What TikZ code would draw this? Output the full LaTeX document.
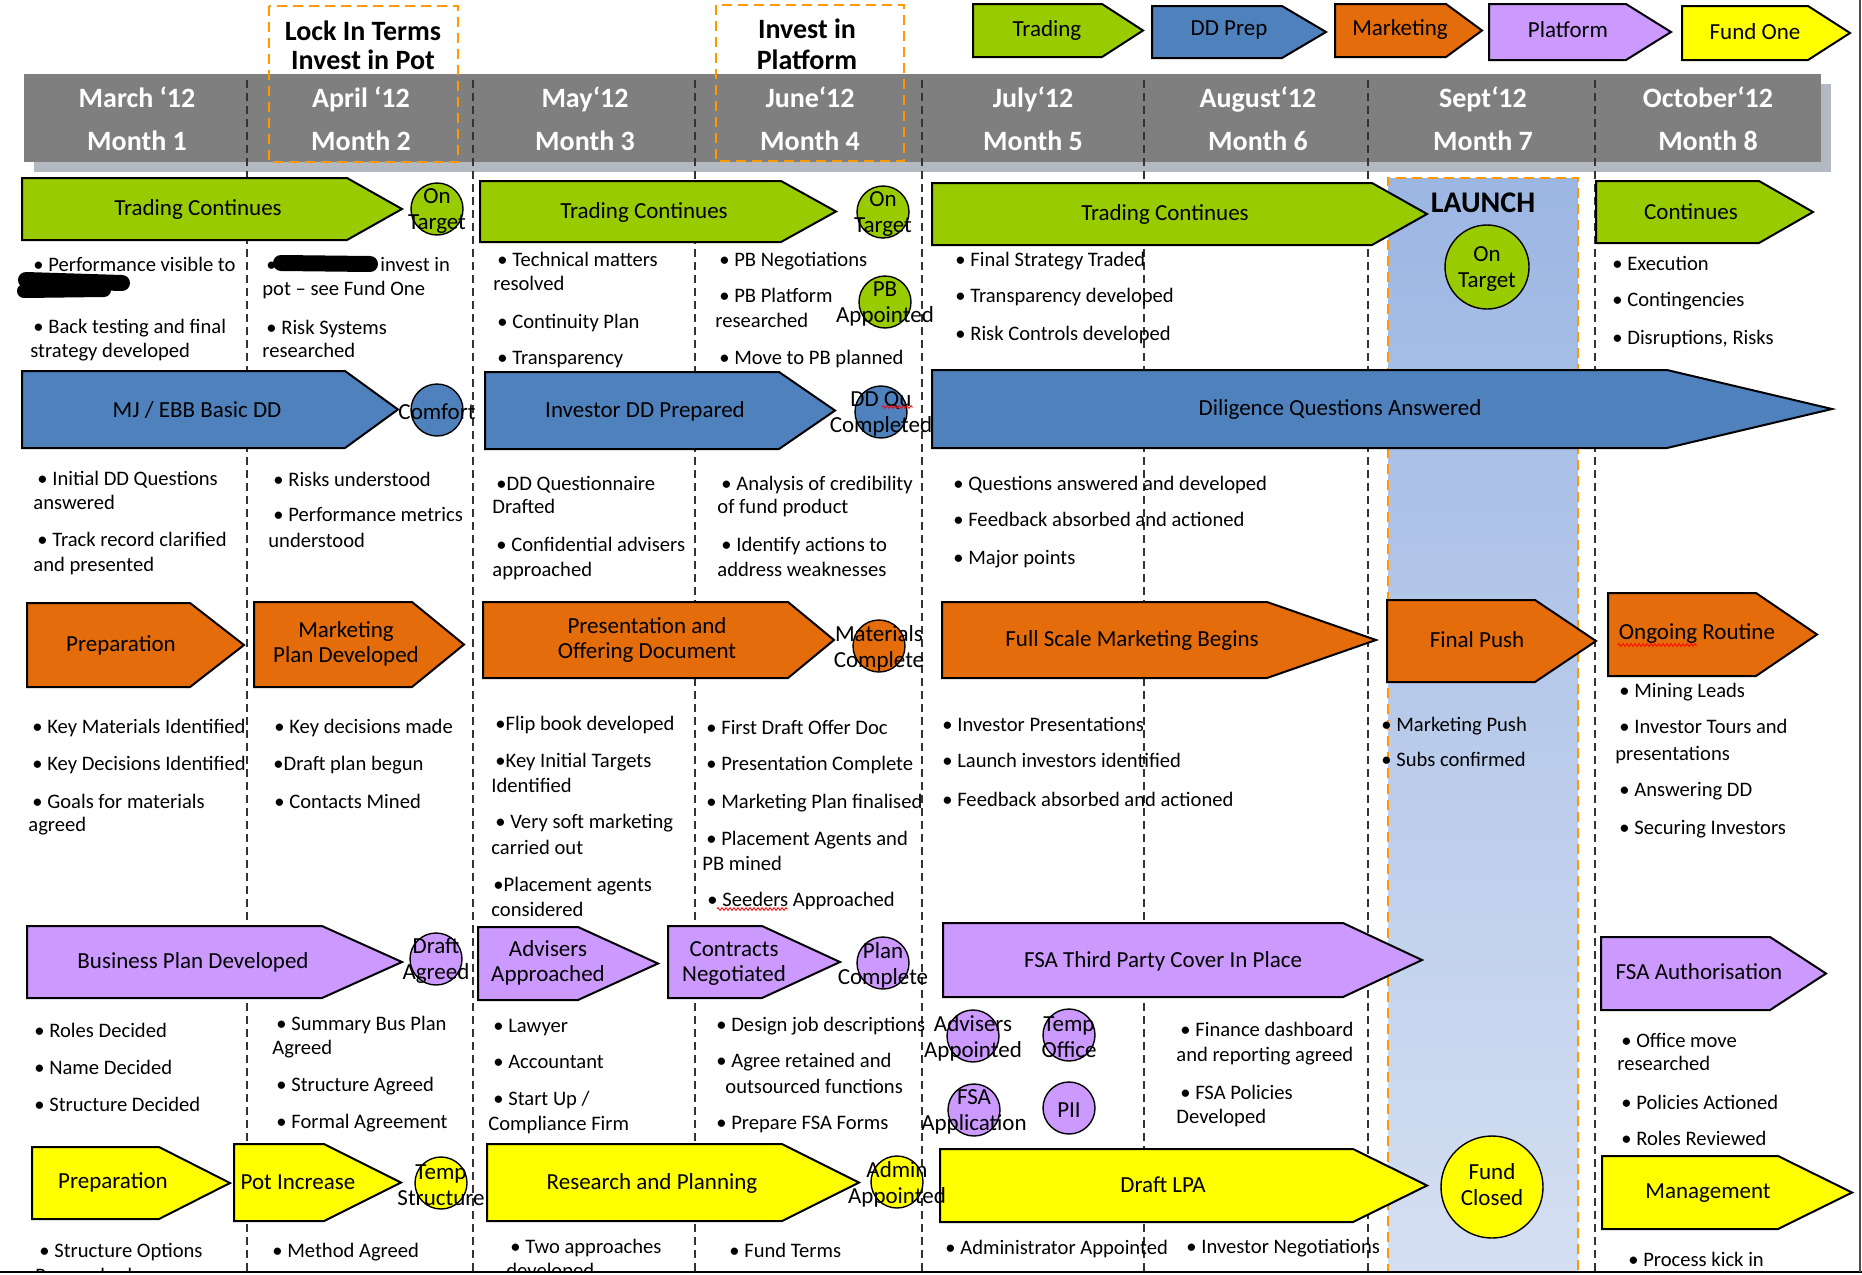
\documentclass[tikz,border=0pt]{standalone}
\usepackage{fontspec}
\setmainfont{Carlito}
\usetikzlibrary{decorations.pathmorphing}
\definecolor{cgreen}{HTML}{99CC00}
\definecolor{cblue}{HTML}{4F81BD}
\definecolor{corange}{HTML}{E46C0A}
\definecolor{cpurple}{HTML}{CC99FF}
\definecolor{cyellow}{HTML}{FFFF00}
\definecolor{hdr}{HTML}{7F7F7F}
\definecolor{hshadow}{HTML}{B3B9C1}
\definecolor{odash}{HTML}{FF9900}
\definecolor{ltop}{HTML}{9CB6E3}
\definecolor{lbot}{HTML}{D5DFF2}
\definecolor{sepc}{HTML}{333333}
\tikzset{
  arrowbox/.style={draw=black, line width=1pt, line join=miter},
  lbl/.style={inner sep=0pt, align=center, font=\fontsize{11.5}{12.5}\selectfont, yshift=-1pt},
  bul/.style={inner sep=0pt, anchor=mid west, yshift=-1.7pt, font=\fontsize{10.3}{12}\selectfont},
  dotc/.style={circle, draw=black, line width=0.7pt, inner sep=0pt},
  ctext/.style={inner sep=0pt, align=center, font=\fontsize{11.5}{13}\selectfont, yshift=-1pt},
  mon/.style={inner sep=0pt, anchor=base, text=white, font=\fontsize{14}{16}\selectfont\bfseries},
  hd/.style={inner sep=0pt, anchor=base, text=black, font=\fontsize{14}{16}\selectfont\bfseries},
  mline/.style={draw=sepc, line width=0.8pt, dash pattern=on 4pt off 2.5pt},
  obox/.style={draw=odash, line width=1.2pt, dash pattern=on 5pt off 3pt},
  squig/.style={draw=red, line width=0.4pt, decorate, decoration={zigzag, segment length=2pt, amplitude=0.7pt}},
  blob/.style={draw=black, line cap=round}
}
\newcommand\pentarrow[6]{\path[arrowbox, fill=#1] (#2,#5) -- (#3,#5) -- (#4,{(#5+#6)/2}) -- (#3,#6) -- (#2,#6) -- cycle;}
\newcommand\dotcirc[5]{\node[dotc, fill=#4, minimum size=#3pt] (#1) at (#2) {};\node[ctext] (#1t) at (#1) {#5};}
\newcounter{bulc}
\newcommand\bultxt[3]{\stepcounter{bulc}\node[bul] (bu\arabic{bulc}) at (#1,#2) {#3};}
\begin{document}
\begin{tikzpicture}[x=0.5pt,y=-0.5pt]
\useasboundingbox (0,0) rectangle (1862,1274);
\fill[white] (0,0) rectangle (1862,1274);
\begin{scope}
\clip (0,0) rectangle (1862,1271);
% header bar
\fill[hshadow] (34,84) rectangle (1831,172);
\fill[hdr] (24,74) rectangle (1821,162);
% launch column
\shade[top color=ltop, bottom color=lbot] (1388,178) rectangle (1578,1274);
\draw[obox] (1388,1274) -- (1388,178) -- (1578,178) -- (1578,1274);
% month separators
\foreach \x in {247,473,695,922,1144,1368,1595} \draw[mline] (\x,80) -- (\x,1274);
% month labels
\node[mon] (ma1) at (137,107) {March ‘12}; \node[mon] (mb1) at (137,150) {Month 1};
\node[mon] (ma2) at (361,107) {April ‘12}; \node[mon] (mb2) at (361,150) {Month 2};
\node[mon] (ma3) at (585,107) {May‘12}; \node[mon] (mb3) at (585,150) {Month 3};
\node[mon] (ma4) at (810,107) {June‘12}; \node[mon] (mb4) at (810,150) {Month 4};
\node[mon] (ma5) at (1033,107) {July‘12}; \node[mon] (mb5) at (1033,150) {Month 5};
\node[mon] (ma6) at (1258,107) {August‘12}; \node[mon] (mb6) at (1258,150) {Month 6};
\node[mon] (ma7) at (1483,107) {Sept‘12}; \node[mon] (mb7) at (1483,150) {Month 7};
\node[mon] (ma8) at (1708,107) {October‘12}; \node[mon] (mb8) at (1708,150) {Month 8};
% milestone boxes
\draw[obox] (269,6) rectangle (458,162);
\node[hd] (lk1) at (363,40) {Lock In Terms};
\node[hd] (lk2) at (363,69) {Invest in Pot};
\draw[obox] (716,5) rectangle (904,161);
\node[hd] (ip1) at (807,39) {Invest in};
\node[hd] (ip2) at (807,69) {Platform};
\node[inner sep=0pt, anchor=base, font=\fontsize{15}{17}\selectfont\bfseries] (launch) at (1483,212) {LAUNCH};
% legend
\pentarrow{cgreen}{973}{1102}{1143}{4}{57} \node[lbl] (lg1) at (1047,28) {Trading};
\pentarrow{cblue}{1152}{1282}{1326}{6}{58} \node[lbl] (lg2) at (1229,28) {DD Prep};
\pentarrow{corange}{1335}{1446}{1482}{4}{57} \node[lbl] (lg3) at (1400,27) {Marketing};
\pentarrow{cpurple}{1489}{1626}{1671}{4}{60} \node[lbl] (lg4) at (1568,28) {Platform};
\pentarrow{cyellow}{1682}{1808}{1850}{6}{60} \node[lbl] (lg5) at (1755,30) {Fund One};
% trading row
\pentarrow{cgreen}{22}{347}{402}{178}{240} \node[lbl] (t1) at (198,207) {Trading Continues};
\pentarrow{cgreen}{480}{781}{836}{181}{242} \node[lbl] (t2) at (644,210) {Trading Continues};
\pentarrow{cgreen}{932}{1372}{1427}{183}{245} \node[lbl] (t3) at (1165,212) {Trading Continues};
\pentarrow{cgreen}{1596}{1759}{1813}{181}{243} \node[lbl] (t4) at (1691,210) {Continues};
% dd row
\pentarrow{cblue}{22}{345}{398}{371}{448} \node[lbl] (b1) at (197,408) {MJ / EBB Basic DD};
\pentarrow{cblue}{485}{779}{835}{372}{449} \node[lbl] (b2) at (645,409) {Investor DD Prepared};
\pentarrow{cblue}{932}{1667}{1832}{370}{448} \node[lbl] (b3) at (1340,407) {Diligence Questions Answered};
% marketing row
\pentarrow{corange}{27}{190}{244}{603}{687} \node[lbl] (o1) at (121,643) {Preparation};
\pentarrow{corange}{254}{412}{464}{602}{687} \node[lbl] (o2) at (346,642) {Marketing\\Plan Developed};
\pentarrow{corange}{483}{788}{834}{602}{678} \node[lbl] (o3) at (647,638) {Presentation and\\Offering Document};
\pentarrow{corange}{942}{1267}{1376}{602}{678} \node[lbl] (o4) at (1132,638) {Full Scale Marketing Begins};
\pentarrow{corange}{1387}{1535}{1596}{600}{682} \node[lbl] (o5) at (1477,638) {Final Push};
\pentarrow{corange}{1608}{1756}{1817}{593}{676} \node[lbl] (o6) at (1697,632) {Ongoing Routine};
% platform row
\pentarrow{cpurple}{27}{322}{402}{926}{998} \node[lbl] (p1) at (193,960) {Business Plan Developed};
\pentarrow{cpurple}{478}{578}{658}{927}{1000} \node[lbl] (p2) at (548,961) {Advisers\\Approached};
\pentarrow{cpurple}{668}{762}{840}{926}{998} \node[lbl] (p3) at (734,961) {Contracts\\Negotiated};
\pentarrow{cpurple}{943}{1343}{1422}{923}{997} \node[lbl] (p4) at (1163,959) {FSA Third Party Cover In Place};
\pentarrow{cpurple}{1601}{1770}{1826}{937}{1010} \node[lbl] (p5) at (1699,970) {FSA Authorisation};
% fund row
\pentarrow{cyellow}{32}{159}{230}{1147}{1219} \node[lbl] (y1) at (113,1180) {Preparation};
\pentarrow{cyellow}{234}{324}{401}{1144}{1221} \node[lbl] (y2) at (298,1180) {Pot Increase};
\pentarrow{cyellow}{487}{782}{859}{1144}{1221} \node[lbl] (y3) at (652,1181) {Research and Planning};
\pentarrow{cyellow}{940}{1353}{1427}{1149}{1222} \node[lbl] (y4) at (1163,1183) {Draft LPA};
\pentarrow{cyellow}{1602}{1778}{1852}{1156}{1229} \node[lbl] (y5) at (1708,1191) {Management};
% circles
\dotcirc{ca}{437,209}{26}{cgreen}{On\\Target}
\dotcirc{cb}{883,212}{26}{cgreen}{On\\Target}
\dotcirc{cc}{885,302}{26}{cgreen}{PB\\Appointed}
\dotcirc{cd}{1487,267}{42}{cgreen}{On\\Target}
\dotcirc{ce}{437,410}{26}{cblue}{Comfort}
\dotcirc{cf}{881,412}{26}{cblue}{DD Qu\\Completed}
\dotcirc{cg}{879,646}{26}{corange}{Materials\\Complete}
\dotcirc{ch}{436,959}{26}{cpurple}{Draft\\Agreed}
\dotcirc{ci}{883,963}{26}{cpurple}{Plan\\Complete}
\dotcirc{cj}{973,1036}{26}{cpurple}{Advisers\\Appointed}
\dotcirc{ck}{1069,1035}{26}{cpurple}{Temp\\Office}
\dotcirc{cl}{974,1110}{26}{cpurple}{FSA\\Application}
\dotcirc{cm}{1069,1108}{26}{cpurple}{PII}
\dotcirc{cn}{441,1183}{26}{cyellow}{Temp\\Structure}
\dotcirc{co}{897,1182}{26}{cyellow}{Admin\\Appointed}
\node[dotc, fill=cyellow, minimum size=51pt] (cp) at (1492,1187) {};
\node[ctext] (cpt) at (1492,1183) {Fund\\Closed};
% spell-check squiggles
\draw[squig] (882,407) -- (913,407);
\draw[squig] (1618,645) -- (1697,645);
\draw[squig] (717,909) -- (788,909);
% row 1 bullets
\bultxt{33}{263}{• Performance visible to}
\draw[blob, line width=8pt] (26,280) -- (122,283);
\draw[blob, line width=7pt] (24,291) -- (104,290);
\bultxt{33}{325}{• Back testing and final}
\bultxt{30}{349}{strategy developed}
\bultxt{266}{263}{•}
\draw[blob, line width=8pt] (281,263) -- (370,264);
\bultxt{380}{263}{invest in}
\bultxt{262}{287}{pot – see Fund One}
\bultxt{266}{326}{• Risk Systems}
\bultxt{262}{349}{researched}
\bultxt{497}{258}{• Technical matters}
\bultxt{493}{282}{resolved}
\bultxt{497}{320}{• Continuity Plan}
\bultxt{497}{356}{• Transparency}
\bultxt{719}{258}{• PB Negotiations}
\bultxt{719}{294}{• PB Platform}
\bultxt{715}{319}{researched}
\bultxt{719}{356}{• Move to PB planned}
\bultxt{955}{258}{• Final Strategy Traded}
\bultxt{955}{294}{• Transparency developed}
\bultxt{955}{332}{• Risk Controls developed}
\bultxt{1612}{262}{• Execution}
\bultxt{1612}{298}{• Contingencies}
\bultxt{1612}{336}{• Disruptions, Risks}
% row 2 bullets
\bultxt{37}{477}{• Initial DD Questions}
\bultxt{33}{501}{answered}
\bultxt{37}{538}{• Track record clarified}
\bultxt{33}{563}{and presented}
\bultxt{273}{478}{• Risks understood}
\bultxt{273}{513}{• Performance metrics}
\bultxt{268}{539}{understood}
\bultxt{496}{482}{•DD Questionnaire}
\bultxt{492}{505}{Drafted}
\bultxt{496}{543}{• Confidential advisers}
\bultxt{492}{568}{approached}
\bultxt{721}{482}{• Analysis of credibility}
\bultxt{717}{505}{of fund product}
\bultxt{721}{543}{• Identify actions to}
\bultxt{717}{568}{address weaknesses}
\bultxt{953}{482}{• Questions answered and developed}
\bultxt{953}{518}{• Feedback absorbed and actioned}
\bultxt{953}{556}{• Major points}
% row 3 bullets
\bultxt{32}{725}{• Key Materials Identified}
\bultxt{32}{762}{• Key Decisions Identified}
\bultxt{32}{800}{• Goals for materials}
\bultxt{28}{823}{agreed}
\bultxt{274}{725}{• Key decisions made}
\bultxt{273}{762}{•Draft plan begun}
\bultxt{274}{800}{• Contacts Mined}
\bultxt{495}{722}{•Flip book developed}
\bultxt{495}{759}{•Key Initial Targets}
\bultxt{491}{784}{Identified}
\bultxt{495}{820}{• Very soft marketing}
\bultxt{491}{846}{carried out}
\bultxt{493}{883}{•Placement agents}
\bultxt{491}{908}{considered}
\bultxt{706}{726}{• First Draft Offer Doc}
\bultxt{706}{762}{• Presentation Complete}
\bultxt{706}{800}{• Marketing Plan finalised}
\bultxt{706}{837}{• Placement Agents and}
\bultxt{702}{862}{PB mined}
\bultxt{707}{898}{• Seeders Approached}
\bultxt{942}{723}{• Investor Presentations}
\bultxt{942}{759}{• Launch investors identified}
\bultxt{942}{798}{• Feedback absorbed and actioned}
\bultxt{1381}{723}{• Marketing Push}
\bultxt{1381}{758}{• Subs confirmed}
\bultxt{1619}{689}{• Mining Leads}
\bultxt{1619}{725}{• Investor Tours and}
\bultxt{1615}{752}{presentations}
\bultxt{1619}{788}{• Answering DD}
\bultxt{1619}{826}{• Securing Investors}
% row 4 bullets
\bultxt{34}{1029}{• Roles Decided}
\bultxt{34}{1066}{• Name Decided}
\bultxt{34}{1103}{• Structure Decided}
\bultxt{276}{1022}{• Summary Bus Plan}
\bultxt{272}{1046}{Agreed}
\bultxt{276}{1083}{• Structure Agreed}
\bultxt{276}{1120}{• Formal Agreement}
\bultxt{493}{1024}{• Lawyer}
\bultxt{493}{1060}{• Accountant}
\bultxt{493}{1097}{• Start Up /}
\bultxt{488}{1122}{Compliance Firm}
\bultxt{716}{1023}{• Design job descriptions}
\bultxt{716}{1059}{• Agree retained and}
\bultxt{725}{1085}{outsourced functions}
\bultxt{716}{1121}{• Prepare FSA Forms}
\bultxt{1180}{1028}{• Finance dashboard}
\bultxt{1176}{1053}{and reporting agreed}
\bultxt{1180}{1091}{• FSA Policies}
\bultxt{1176}{1115}{Developed}
\bultxt{1621}{1039}{• Office move}
\bultxt{1617}{1062}{researched}
\bultxt{1621}{1101}{• Policies Actioned}
\bultxt{1621}{1137}{• Roles Reviewed}
% row 5 bullets
\bultxt{39}{1249}{• Structure Options}
\bultxt{35}{1274}{Researched}
\bultxt{272}{1249}{• Method Agreed}
\bultxt{510}{1245}{• Two approaches}
\bultxt{506}{1269}{developed}
\bultxt{729}{1249}{• Fund Terms}
\bultxt{945}{1246}{• Administrator Appointed}
\bultxt{1186}{1245}{• Investor Negotiations}
\bultxt{1628}{1258}{• Process kick in}
\end{scope}
\draw[black, line width=1pt] (0,1272) -- (1862,1272);
\draw[gray!60!black, line width=0.8pt] (1860,0) -- (1860,1272);
\end{tikzpicture}
\end{document}
